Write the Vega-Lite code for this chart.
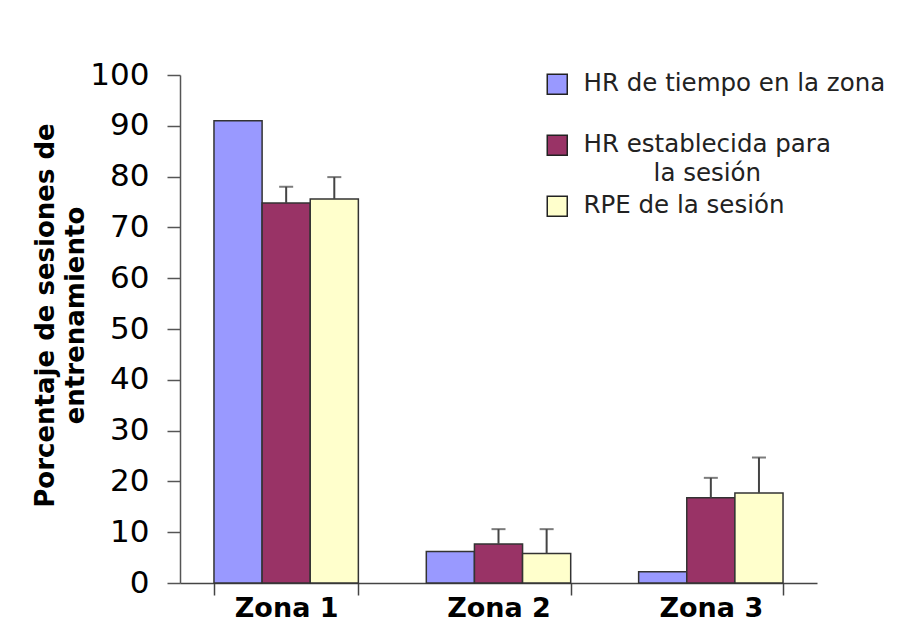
{
  "$schema": "https://vega.github.io/schema/vega-lite/v6.json",
  "width": 637,
  "height": 508,
  "autosize": {"type": "none"},
  "padding": {"left": 180, "top": 75, "right": 86, "bottom": 39},
  "background": "white",
  "config": {
    "font": "DejaVu Sans",
    "view": {"stroke": null},
    "style": {"guide-label": {"lineHeight": 29}}
  },
  "data": {
    "values": [
      {"zona": "Zona 1", "serie": "HR de tiempo en la zona", "valor": 91.0, "sup": null},
      {"zona": "Zona 1", "serie": "HR establecida para la sesión", "valor": 74.8, "sup": 78.0},
      {"zona": "Zona 1", "serie": "RPE de la sesión", "valor": 75.6, "sup": 79.9},
      {"zona": "Zona 2", "serie": "HR de tiempo en la zona", "valor": 6.2, "sup": null},
      {"zona": "Zona 2", "serie": "HR establecida para la sesión", "valor": 7.7, "sup": 10.6},
      {"zona": "Zona 2", "serie": "RPE de la sesión", "valor": 5.8, "sup": 10.6},
      {"zona": "Zona 3", "serie": "HR de tiempo en la zona", "valor": 2.2, "sup": null},
      {"zona": "Zona 3", "serie": "HR establecida para la sesión", "valor": 16.8, "sup": 20.7},
      {"zona": "Zona 3", "serie": "RPE de la sesión", "valor": 17.7, "sup": 24.7}
    ]
  },
  "encoding": {
    "x": {
      "field": "zona",
      "type": "nominal",
      "scale": {"paddingInner": 0.32, "paddingOuter": 0.16},
      "axis": {
        "title": null,
        "labelAngle": 0,
        "labelFontSize": 27,
        "labelFontWeight": "bold",
        "labelColor": "black",
        "tickBand": "extent",
        "tickSize": 12,
        "labelPadding": 0,
        "domainColor": "#444",
        "tickColor": "#444",
        "domainWidth": 1.5,
        "tickWidth": 1.5
      }
    },
    "xOffset": {
      "field": "serie",
      "type": "nominal",
      "sort": ["HR de tiempo en la zona", "HR establecida para la sesión", "RPE de la sesión"],
      "scale": {"paddingInner": 0, "paddingOuter": 0}
    }
  },
  "layer": [
    {
      "mark": {"type": "bar", "stroke": "#333", "strokeWidth": 1.5},
      "encoding": {
        "y": {
          "field": "valor",
          "type": "quantitative",
          "scale": {"domain": [0, 100], "nice": false},
          "axis": {
            "title": ["Porcentaje de sesiones de", "entrenamiento"],
            "titleFontSize": 26,
            "titleFontWeight": "bold",
            "titleColor": "black",
            "titleAngle": -90,
            "titleAlign": "center",
            "titleBaseline": "top",
            "titleX": -148,
            "titleY": 240,
            "titleLineHeight": 30,
            "values": [0, 10, 20, 30, 40, 50, 60, 70, 80, 90, 100],
            "grid": false,
            "labelFontSize": 31,
            "labelColor": "black",
            "labelPadding": 18,
            "tickSize": 13,
            "domainColor": "#555",
            "tickColor": "#555",
            "domainWidth": 1.5,
            "tickWidth": 1.5
          }
        },
        "color": {
          "field": "serie",
          "type": "nominal",
          "scale": {
            "domain": ["HR de tiempo en la zona", "HR establecida para la sesión", "RPE de la sesión"],
            "range": ["#9999FF", "#993366", "#FFFFCC"]
          },
          "legend": {
            "orient": "none",
            "legendX": 365,
            "legendY": -3,
            "title": null,
            "padding": 0,
            "gridAlign": "all",
            "symbolType": "square",
            "symbolSize": 400,
            "symbolStrokeColor": "#222",
            "symbolStrokeWidth": 1.5,
            "symbolOpacity": 1,
            "labelFontSize": 24.5,
            "labelColor": "#222",
            "labelOffset": 14,
            "labelLimit": 400,
            "rowPadding": 7,
            "labelExpr": "datum.label == 'HR establecida para la sesión' ? ['HR establecida para', '\\u2060\\u00a0\\u00a0\\u00a0\\u00a0\\u00a0\\u00a0\\u00a0\\u00a0\\u00a0la sesión'] : [datum.label, '']"
          }
        }
      }
    },
    {
      "transform": [{"filter": "datum.sup != null"}],
      "mark": {"type": "rule", "color": "#444", "strokeWidth": 2},
      "encoding": {
        "y": {"field": "valor", "type": "quantitative"},
        "y2": {"field": "sup"}
      }
    },
    {
      "transform": [{"filter": "datum.sup != null"}],
      "mark": {"type": "tick", "color": "#444", "thickness": 2, "size": 14},
      "encoding": {
        "y": {"field": "sup", "type": "quantitative"}
      }
    }
  ]
}
